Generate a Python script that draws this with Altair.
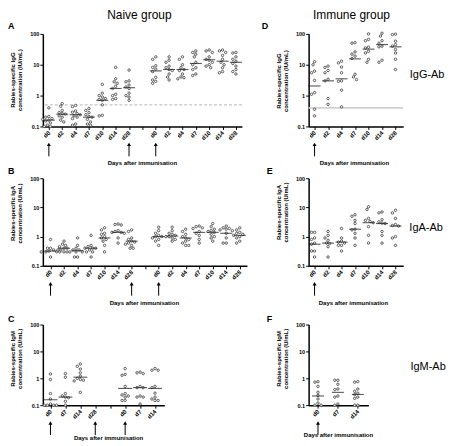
import math
import altair as alt
import pandas as pd

FONT = "Liberation Sans"

# ---------------- data ----------------
# Panel A: naive group, IgG (IU/mL); slot 7 is the gap between the two courses
A_LABELS = ["d0", "d2", "d4", "d7", "d10", "d14", "d28", "", "d0", "d2", "d4", "d7", "d10", "d14", "d28"]
A_VALUES = [
    [0.4, 0.21, 0.2, 0.18, 0.17, 0.16, 0.15, 0.13, 0.11, 0.1, 0.1],
    [0.55, 0.45, 0.33, 0.28, 0.26, 0.25, 0.22, 0.2, 0.16, 0.14],
    [0.48, 0.44, 0.32, 0.29, 0.26, 0.24, 0.22, 0.2, 0.18, 0.12, 0.11],
    [0.38, 0.33, 0.28, 0.24, 0.21, 0.2, 0.17, 0.14, 0.12, 0.11],
    [2.3, 1.2, 1.0, 0.9, 0.8, 0.75, 0.7, 0.5, 0.23, 0.22],
    [8.2, 3.5, 2.8, 2.5, 2.0, 1.7, 1.1, 1.0, 0.8, 0.75],
    [6.7, 3.0, 2.8, 2.2, 1.9, 1.7, 1.2, 1.0, 0.9, 0.7],
    [],
    [18, 15, 9.3, 8.2, 7.2, 6, 3.9, 3.2, 2.9, 2.5],
    [18, 14, 12, 9, 8, 7, 6.5, 5, 4, 3.2],
    [18, 15, 10, 8, 7, 6.5, 5, 4, 3.8, 3.5],
    [28, 25, 22, 18, 12, 10, 8, 7, 5, 4.5],
    [30, 28, 25, 18, 15, 14, 12, 10, 9, 8],
    [30, 28, 25, 20, 15, 12, 10, 8, 6, 5.5],
    [25, 24, 18, 15, 13, 11, 9, 7, 6, 5],
]
A_MEDIANS = [0.16, 0.25, 0.24, 0.2, 0.7, 1.7, 1.8, None, 6.3, 7, 7, 11, 14.5, 13, 12]
A_ARROWS = [0, 6, 8]

# Panel B: naive group, IgA (U/mL)
B_LABELS = A_LABELS
B_VALUES = [
    [0.8, 0.4, 0.4, 0.35, 0.32, 0.3, 0.3, 0.3, 0.3, 0.2],
    [0.7, 0.55, 0.5, 0.45, 0.4, 0.4, 0.35, 0.35, 0.3, 0.3],
    [0.9, 0.5, 0.4, 0.35, 0.35, 0.3, 0.3, 0.3, 0.2, 0.2],
    [1.1, 0.5, 0.45, 0.4, 0.4, 0.4, 0.35, 0.3, 0.3, 0.2],
    [2.0, 1.7, 1.3, 1.2, 1.0, 0.9, 0.8, 0.7, 0.5, 0.3],
    [2.7, 2.6, 2.5, 1.6, 1.5, 1.4, 1.4, 1.3, 0.9, 0.6],
    [1.7, 1.5, 0.9, 0.8, 0.7, 0.65, 0.6, 0.55, 0.5, 0.4, 0.4],
    [],
    [2.1, 1.6, 1.3, 1.1, 1.0, 1.0, 0.9, 0.8, 0.7, 0.5],
    [2.1, 1.6, 1.3, 1.2, 1.1, 1.0, 1.0, 0.9, 0.8, 0.7],
    [1.8, 1.5, 1.2, 1.0, 0.9, 0.8, 0.7, 0.6, 0.5, 0.5],
    [2.3, 2.2, 2.0, 1.9, 1.5, 1.3, 1.1, 0.8, 0.6],
    [2.8, 2.2, 1.8, 1.6, 1.5, 1.4, 1.2, 1.0, 0.9, 0.7],
    [2.3, 2.0, 1.9, 1.8, 1.7, 1.6, 1.3, 0.9, 0.6, 0.6],
    [2.0, 1.7, 1.4, 1.3, 1.2, 1.1, 1.0, 0.9, 0.7, 0.6],
]
B_MEDIANS = [0.32, 0.4, 0.33, 0.4, 0.9, 1.4, 0.7, None, 1.0, 1.05, 0.9, 1.4, 1.4, 1.3, 1.1]
B_ARROWS = [0, 6, 8]

# Panel C: naive group, IgM (U/mL); d28 has no values, slot 4 is the gap
C_LABELS = ["d0", "d7", "d14", "d28", "", "d0", "d7", "d14"]
C_VALUES = [
    [1.45, 0.9, 0.27, 0.17, 0.11, 0.1, 0.1, 0.1, 0.1],
    [1.5, 1.1, 0.27, 0.22, 0.2, 0.19, 0.14, 0.1],
    [3.4, 2.8, 2.2, 1.6, 1.2, 1.0, 0.9, 0.85, 0.8, 0.3],
    [],
    [],
    [2.3, 1.4, 1.3, 0.5, 0.27, 0.24, 0.22, 0.2, 0.15, 0.15],
    [1.7, 1.6, 1.5, 0.5, 0.45, 0.45, 0.22, 0.2, 0.2, 0.11],
    [2.3, 2.0, 2.0, 0.5, 0.45, 0.28, 0.2, 0.17, 0.15, 0.15],
]
C_MEDIANS = [0.16, 0.2, 1.1, None, None, 0.42, 0.45, 0.42]
C_ARROWS = [0, 3, 5]

# Panel D: immune group, IgG (IU/mL)
D_LABELS = ["d0", "d2", "d4", "d7", "d10", "d14", "d28"]
D_VALUES = [
    [12.5, 10, 6.2, 5.5, 3.1, 1.25, 1.1, 0.36, 0.22],
    [9, 8.2, 6.5, 5.5, 3.4, 3.0, 0.8, 0.52],
    [13, 11.5, 8.4, 5.5, 3.0, 2.9, 1.5, 0.43],
    [52, 50, 26, 22, 19, 16, 4.9, 4.0, 3.3],
    [100, 66, 60, 37, 35, 27, 24, 15, 12],
    [105, 85, 60, 50, 40, 38, 14, 12],
    [98, 95, 58, 45, 40, 31, 24, 15, 7],
]
D_MEDIANS = [2.05, 3.0, 3.5, 15.5, 32, 45, 38]
D_ARROWS = [0]

# Panel E: immune group, IgA (U/mL)
E_LABELS = D_LABELS
E_VALUES = [
    [1.4, 1.4, 0.9, 0.8, 0.6, 0.55, 0.32, 0.32, 0.2],
    [1.5, 1.1, 0.9, 0.75, 0.6, 0.58, 0.45, 0.2],
    [1.9, 0.9, 0.7, 0.65, 0.6, 0.5, 0.5, 0.32],
    [5.6, 5, 3.6, 2.8, 1.8, 1.7, 1.3, 0.9, 0.5],
    [10.5, 8.5, 4.2, 3.6, 3.3, 3.0, 2.2, 1.1, 0.6],
    [7, 6.5, 3.8, 3.2, 2.9, 2.8, 1.5, 1.1, 0.6],
    [8, 6.5, 4.2, 2.6, 2.4, 2.3, 1.0, 0.9, 0.5],
]
E_MEDIANS = [0.55, 0.6, 0.65, 1.8, 3.0, 2.8, 2.3]
E_ARROWS = [0]

# Panel F: immune group, IgM (U/mL)
F_LABELS = ["d0", "d7", "d14"]
F_VALUES = [
    [0.75, 0.72, 0.5, 0.3, 0.23, 0.17, 0.12, 0.1, 0.1],
    [0.85, 0.85, 0.6, 0.4, 0.38, 0.22, 0.2, 0.11, 0.1],
    [0.75, 0.72, 0.4, 0.33, 0.28, 0.25, 0.2, 0.18, 0.1, 0.1],
]
F_MEDIANS = [0.22, 0.3, 0.25]
F_ARROWS = [0]

CUTOFF_A = [0.5]
CUTOFF_D = [0.4]


# ---------------- helpers ----------------
def spread(values, px_per_decade, step_px, dot=3.1):
    """Scatter-dot layout: push overlapping dots sideways (in slot units)."""
    placed, xs = [], []
    for v in values:
        yp = math.log10(v) * px_per_decade
        xp = 0.0
        for k in [0, -0.5, 0.5, -1, 1, -1.5, 1.5, -2, 2, -2.5, 2.5, -3, 3]:
            xp = k * dot
            if all((xp - a) ** 2 + (yp - b) ** 2 >= dot * dot for a, b in placed):
                break
        placed.append((xp, yp))
        xs.append(xp / step_px)
    return xs


def panel(values, medians, labels, arrows, domain, width, height, top,
          ytitle, title_y, texts, cutoff=None, cutoff_style=None, median_size=12):
    ppd = (height - top) / 3.0
    step = width / (domain[1] - domain[0])
    rows = []
    for slot, vals in enumerate(values):
        offs = spread(vals, ppd, step)
        for v, o in zip(vals, offs):
            rows.append({"x": slot + o, "v": v})
    pts = pd.DataFrame(rows)
    med = pd.DataFrame([{"x": i, "v": m} for i, m in enumerate(medians) if m is not None])
    arr = pd.DataFrame({"x": arrows})

    lab_js = "[" + ",".join("'%s'" % s for s in labels) + "][datum.value]"
    xenc = alt.X("x:Q",
                 scale=alt.Scale(domain=domain, nice=False, zero=False),
                 axis=alt.Axis(values=list(range(len(labels))), labelExpr=lab_js, title=None,
                               labelAngle=315, labelAlign="right", labelBaseline="middle",
                               labelPadding=2, labelOverlap=False, labelFlush=False,
                               grid=False))
    yscale = alt.Scale(type="log", domain=[0.1, 100], range=[height, top], nice=False)
    yenc = alt.Y("v:Q", scale=yscale,
                 axis=alt.Axis(values=[0.1, 1, 10, 100], format="~g", title=ytitle,
                               titleAngle=270, titleX=-33, titleY=title_y,
                               titleBaseline="top", titleAlign="center",
                               labelOverlap=False, labelFlush=False, labelPadding=1,
                               grid=False))

    layers = []
    if cutoff is not None:
        cdf = pd.DataFrame({"v": cutoff})
        layers.append(alt.Chart(cdf).mark_rule(**cutoff_style).encode(y=yenc))
    layers.append(alt.Chart(pts).mark_point(shape="circle", size=6, fill="white", fillOpacity=1,
                                            stroke="#222", strokeWidth=0.7, opacity=1)
                  .encode(x=xenc, y=yenc))
    layers.append(alt.Chart(med).mark_tick(orient="horizontal", size=median_size, thickness=1.1,
                                           color="#111")
                  .encode(x=xenc, y=yenc))
    layers.append(alt.Chart(arr).mark_rule(color="black", strokeWidth=1)
                  .encode(x=xenc, y=alt.value(height + 18), y2=alt.value(height + 30)))
    layers.append(alt.Chart(arr).mark_point(shape="triangle-up", filled=True, color="black",
                                            size=16, opacity=1)
                  .encode(x=xenc, y=alt.value(height + 18)))
    one = pd.DataFrame({"k": [0]})
    for t in texts:
        txt, tx, ty, size, weight, align = t
        layers.append(alt.Chart(one).mark_text(text=txt, font=FONT, fontSize=size,
                                               fontWeight=weight, align=align,
                                               baseline="middle", color="black")
                      .encode(x=alt.value(tx), y=alt.value(ty)))
    return alt.layer(*layers).properties(width=width, height=height)


DAYS = "Days after immunisation"

pA = panel(A_VALUES, A_MEDIANS, A_LABELS, A_ARROWS, [-0.45, 14.45], 200, 93, 0,
           ["Rabies-specific IgG", "concentration (IU/mL)"], 46,
           [("A", -35, -8, 9, "bold", "left"),
            ("Naive group", 97, -19, 12, "normal", "center"),
            (DAYS, 100, 130, 6, "bold", "center")],
           cutoff=CUTOFF_A, cutoff_style=dict(color="#b5b5b5", strokeDash=[3, 2], strokeWidth=1))

pD = panel(D_VALUES, D_MEDIANS, D_LABELS, D_ARROWS, [-0.44, 6.57], 95, 93, 0,
           ["Rabies-specific IgG", "concentration (IU/mL)"], 47,
           [("D", -47, -8, 9, "bold", "left"),
            ("Immune group", 43, -19, 12, "normal", "center"),
            ("IgG-Ab", 119, 41, 11, "normal", "center"),
            (DAYS, 46, 130, 6, "bold", "center")],
           cutoff=CUTOFF_D, cutoff_style=dict(color="#d0d0d0", strokeWidth=2))

pB = panel(B_VALUES, B_MEDIANS, B_LABELS, B_ARROWS, [-0.57, 14.53], 205, 88, 0,
           ["Rabies-specific IgA", "concentration (U/mL)"], 35,
           [("B", -35, -7, 9, "bold", "left"),
            (DAYS, 102, 125, 6, "bold", "center")])

pE = panel(E_VALUES, E_MEDIANS, E_LABELS, E_ARROWS, [-0.44, 6.57], 95, 88, 0,
           ["Rabies-specific IgA", "concentration (U/mL)"], 34,
           [("E", -42, -7, 9, "bold", "left"),
            ("IgA-Ab", 118, 50, 11, "normal", "center"),
            (DAYS, 45, 125, 6, "bold", "center")])

pC = panel(C_VALUES, C_MEDIANS, C_LABELS, C_ARROWS, [-0.51, 7.62], 122, 88, 7,
           ["Rabies-specific IgM", "concentration (U/mL)"], 41,
           [("C", -35, 1, 9, "bold", "left"),
            (DAYS, 66, 121, 6, "bold", "center")], median_size=14)

pF = panel(F_VALUES, F_MEDIANS, F_LABELS, F_ARROWS, [-0.47, 2.53], 60, 88, 7,
           ["Rabies-specific IgM", "concentration (U/mL)"], 41,
           [("F", -42, 1, 9, "bold", "left"),
            ("IgM-Ab", 120, 50, 11, "normal", "center"),
            (DAYS, 30, 118, 6, "bold", "center")])

chart = alt.concat(pA, pD, pB, pE, pC, pF, columns=2,
                   spacing={"row": 52, "column": 62}, bounds="flush").properties(
    padding={"left": 0, "top": 0, "right": 0, "bottom": 0}
).configure_view(stroke=None).configure_axis(
    domainColor="black", domainWidth=1.5, tickColor="black", tickWidth=1, tickSize=3,
    labelFont=FONT, labelFontSize=6, labelFontWeight="bold", labelColor="black",
    titleFont=FONT, titleFontSize=6, titleFontWeight="bold", titleColor="black",
    titleLineHeight=6.5
).configure_axisY(labelFontSize=5.5)

chart.save("out.html", embed_options={"renderer": "svg", "actions": False})
